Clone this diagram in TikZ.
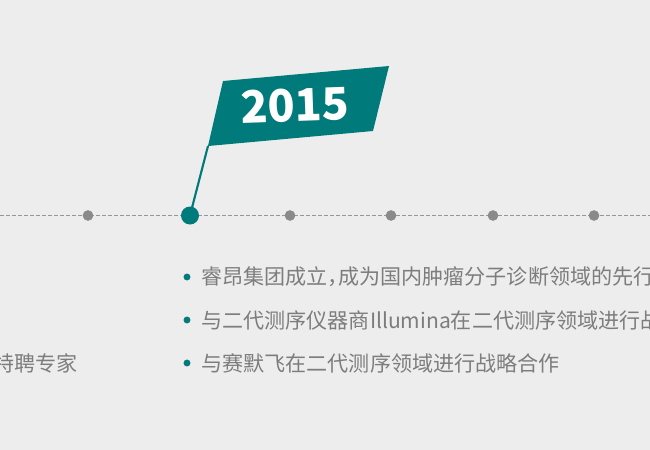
\documentclass[tikz,border=0pt]{standalone}
\usepackage{fontspec}
\newfontfamily\cjk{Noto Sans CJK SC}
\definecolor{flagteal}{RGB}{0,122,122}
\definecolor{dotgrey}{RGB}{138,138,138}
\definecolor{linegrey}{RGB}{150,150,150}
\definecolor{textgrey}{RGB}{125,125,125}
\definecolor{paper}{RGB}{237,237,237}
\tikzset{every picture/.style={line width=0.75pt}}

\begin{document}
\begin{tikzpicture}[x=0.75pt,y=0.75pt,yscale=-1,xscale=1,
  yeardot/.style={circle,fill=dotgrey,inner sep=0pt,minimum size=8pt},
  nowdot/.style={circle,fill=flagteal,inner sep=0pt,minimum size=13.5pt},
  bulletdot/.style={circle,fill=flagteal,inner sep=0pt,minimum size=5.2pt},
  itemtext/.style={anchor=west,inner sep=0pt,text=textgrey,font=\cjk\fontsize{15.8}{18}\selectfont}]
%set diagram to 650 x 450
\useasboundingbox (0,0) rectangle (650,450);
\fill [paper] (0,0) rectangle (650,450);
\clip (0,0) rectangle (650,450);

%Dashed time line
\coordinate (lineL) at (0,215.5);
\coordinate (lineR) at (650,215.5);
\draw [color=linegrey, dash pattern={on 3pt off 1.5pt}] (lineL) -- (lineR);

%Year dots
\node [yeardot] (y1) at (88,215.5) {};
\node [yeardot] (y3) at (290,215.5) {};
\node [yeardot] (y4) at (391,215.5) {};
\node [yeardot] (y5) at (493,215.5) {};
\node [yeardot] (y6) at (594,215.5) {};

%Flag
\coordinate (flagTL) at (223,81);
\coordinate (flagTR) at (389,66);
\coordinate (flagBR) at (373,131);
\coordinate (flagBL) at (208,146);
\fill [flagteal] (flagTL) -- (flagTR) -- (flagBR) -- (flagBL) -- cycle;
\node [nowdot] (y2) at (190,215.5) {};
\draw [flagteal, line width=1.6pt] (y2.center) -- (flagBL);

% Text Node
\node [inner sep=0pt, rotate=2, text=white, font=\cjk\bfseries\fontsize{33.5}{40}\selectfont] (year) at (295,105) {2015};

% Text Node
\node [bulletdot] (b1) at (187,277) {};
\node [itemtext] (t1) at (201,277) {睿昂集团成立{\addfontfeature{RawFeature=+halt}，}成为国内肿瘤分子诊断领域的先行};
% Text Node
\node [bulletdot] (b2) at (187,320) {};
\node [itemtext] (t2) at (201,320) {与二代测序仪器商Illumina在二代测序领域进行战};
% Text Node
\node [bulletdot] (b3) at (187,363) {};
\node [itemtext] (t3) at (201,363) {与赛默飞在二代测序领域进行战略合作};
% Text Node
\node [itemtext, anchor=east] (t0) at (78,363) {特聘专家};

\end{tikzpicture}
\end{document}
